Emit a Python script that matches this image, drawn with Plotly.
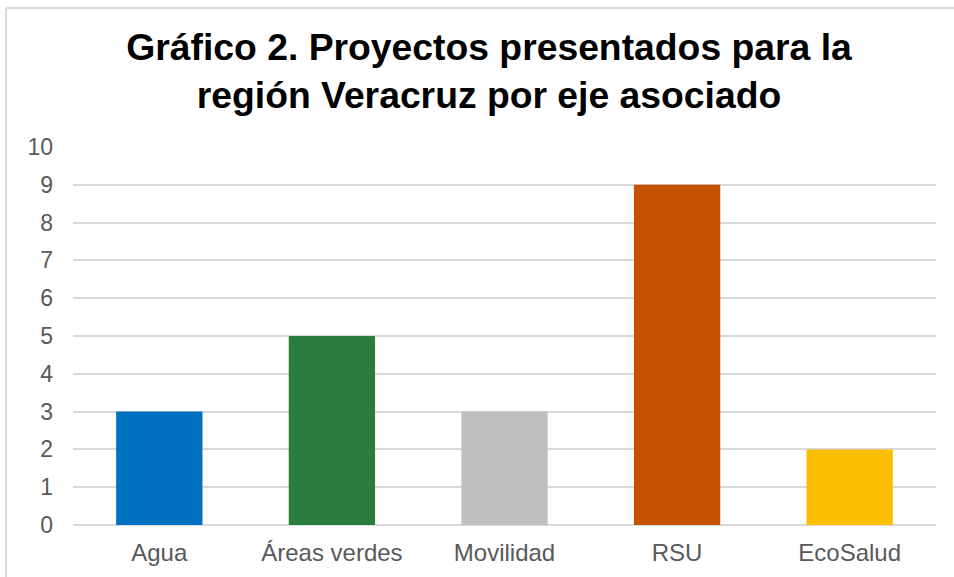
import plotly.graph_objects as go

categories = ["Agua", "Áreas verdes", "Movilidad", "RSU", "EcoSalud"]
values = [3, 5, 3, 9, 2]
colors = ["#0070C0", "#2A7D3F", "#BFBFBF", "#C45200", "#FBBF00"]
y_ticks = list(range(0, 11))

fig = go.Figure(go.Bar(x=categories, y=values, marker=dict(color=colors, line=dict(width=0))))

W, H = 954, 577
L, R, T, B = 73, 18, 147, 52
pw, ph = W - L - R, H - T - B

def px_x(p):
    return (p - L) / pw

def px_y(p):
    return (H - B - p) / ph

fig.update_layout(
    width=W, height=H,
    margin=dict(l=L, r=R, t=T, b=B, pad=0),
    paper_bgcolor="white", plot_bgcolor="white",
    bargap=0.5,
    showlegend=False,
    font=dict(family="Liberation Sans, Arial, sans-serif", color="#595959"),
    title=dict(
        text="<b>Gráfico 2. Proyectos presentados para la<br>región Veracruz por eje asociado</b>",
        font=dict(family="Liberation Sans, Arial, sans-serif", size=37.3, color="#000000"),
        x=489 / W, xanchor="center", xref="container",
        y=1 - 60 / H, yanchor="middle", yref="container",
    ),
    xaxis=dict(
        tickfont=dict(size=24, color="#595959"),
        showgrid=False, showline=False, ticks="", ticklabelstandoff=11,
    ),
    yaxis=dict(
        range=[0, 10], tickvals=y_ticks, ticktext=[str(v) for v in y_ticks],
        tickfont=dict(size=23, color="#595959"),
        showgrid=True, gridcolor="#D9D9D9", gridwidth=1.5,
        zeroline=True, zerolinecolor="#D9D9D9", zerolinewidth=1.5,
        showline=False, ticks="", ticklabelstandoff=19,
    ),
    shapes=[
        dict(type="line", xref="paper", yref="paper",
             x0=px_x(6), x1=px_x(W), y0=px_y(8), y1=px_y(8),
             line=dict(color="#D9D9D9", width=2)),
        dict(type="line", xref="paper", yref="paper",
             x0=px_x(6), x1=px_x(6), y0=px_y(8), y1=px_y(H),
             line=dict(color="#D9D9D9", width=2)),
    ],
)

fig.write_html("out.html", config={"displayModeBar": False},
               post_script="document.body.style.margin='0px';")
